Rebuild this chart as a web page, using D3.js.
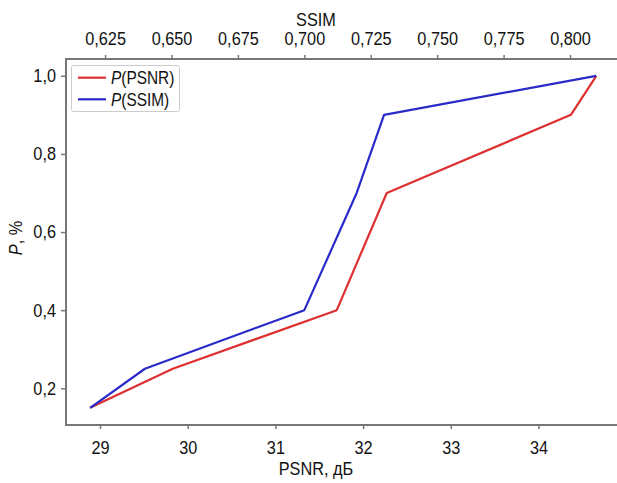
<!DOCTYPE html>
<html><head><meta charset="utf-8">
<script src="https://cdn.jsdelivr.net/npm/d3@7"></script>
<style>
body{margin:0;background:#fff}
text{font-family:"Liberation Sans",Arial,sans-serif;fill:#111}
</style>
</head><body>
<svg id="c" width="617" height="483"></svg>
<script>
// Data
const psnrX = [28.886, 29.83, 31.70, 32.27, 34.37, 34.66];
const psnrP = [0.15, 0.25, 0.40, 0.70, 0.90, 1.00];
const ssimX = [0.6194, 0.640, 0.700, 0.7197, 0.730, 0.8098];
const ssimP = [0.15, 0.25, 0.40, 0.70, 0.90, 1.00];
const psnrTicks = [29, 30, 31, 32, 33, 34];
const ssimTicks = [0.625, 0.650, 0.675, 0.700, 0.725, 0.750, 0.775, 0.800];
const pTicks = [0.2, 0.4, 0.6, 0.8, 1.0];
const seriesNames = ["(PSNR)", "(SSIM)"];
const colors = ["#dd3030", "#2a2ac8"];

const svg = d3.select("#c");
const L = 66, R = 620, T = 59, B = 425;
const x = d3.scaleLinear().domain([28.612, 34.93]).range([L, R]);
const xs = d3.scaleLinear().domain([0.6103, 0.8188]).range([L, R]);
const y = d3.scaleLinear().domain([0.106, 1.043]).range([B, T]);

const fs = "18.5px", axc = "#777";

function styleAxis(g){
  g.select(".domain").remove();
  g.selectAll(".tick line").attr("stroke", axc).attr("stroke-width", 1.5);
  g.selectAll(".tick text").style("font-size", fs)
    .style("font-family", '"Liberation Sans",Arial,sans-serif').attr("fill", "#111");
}

// bottom axis
svg.append("g").attr("transform", `translate(0,${B})`)
  .call(d3.axisBottom(x).tickValues(psnrTicks).tickSize(4).tickPadding(12).tickFormat(d => d))
  .call(styleAxis);
// top axis
svg.append("g").attr("transform", `translate(0,${T})`)
  .call(d3.axisTop(xs).tickValues(ssimTicks).tickSize(4).tickPadding(10).tickFormat(d => d.toFixed(3).replace(".", ",")))
  .call(styleAxis);
// left axis
svg.append("g").attr("transform", `translate(${L},0)`)
  .call(d3.axisLeft(y).tickValues(pTicks).tickSize(5).tickPadding(5).tickFormat(d => d.toFixed(1).replace(".", ",")))
  .call(styleAxis);

// frame
svg.append("rect").attr("x", L).attr("y", T).attr("width", R - L).attr("height", B - T)
  .attr("fill", "none").attr("stroke", axc).attr("stroke-width", 2);

// lines
const lineP = d3.line().x(d => x(d[0])).y(d => y(d[1]));
const lineS = d3.line().x(d => xs(d[0])).y(d => y(d[1]));
svg.append("path").datum(psnrX.map((v, i) => [v, psnrP[i]]))
  .attr("d", lineP).attr("fill", "none").attr("stroke", colors[0]).attr("stroke-width", 2.2).attr("stroke-linejoin", "round");
svg.append("path").datum(ssimX.map((v, i) => [v, ssimP[i]]))
  .attr("d", lineS).attr("fill", "none").attr("stroke", colors[1]).attr("stroke-width", 2.2).attr("stroke-linejoin", "round");

// axis titles
svg.append("text").attr("x", 316).attr("y", 26).attr("text-anchor", "middle")
  .style("font-size", fs).text("SSIM");
svg.append("text").attr("x", 316).attr("y", 475).attr("text-anchor", "middle")
  .style("font-size", fs).text("PSNR, дБ");
const yt = svg.append("text").attr("transform", "translate(22,238) rotate(-90)").attr("text-anchor", "middle")
  .style("font-size", fs);
yt.append("tspan").style("font-style", "italic").text("P");
yt.append("tspan").text(", %");

// legend
const lg = svg.append("g");
lg.append("rect").attr("x", 71.5).attr("y", 65.5).attr("width", 108).attr("height", 46).attr("rx", 2)
  .attr("fill", "#fff").attr("stroke", "#ccc").attr("stroke-width", 1);
seriesNames.forEach((n, i) => {
  const yy = 77.7 + i * 21.6;
  lg.append("line").attr("x1", 78).attr("x2", 106).attr("y1", yy).attr("y2", yy)
    .attr("stroke", colors[i]).attr("stroke-width", 2.2);
  const t = lg.append("text").attr("x", 111).attr("y", yy + 6.5)
    .style("font-size", "17.5px");
  t.append("tspan").style("font-style", "italic").text("P");
  t.append("tspan").text(n);
});

// condense all text glyphs (narrow typeface look)
svg.selectAll("text").each(function(){
  const w = this.getComputedTextLength();
  d3.select(this).attr("textLength", (w * 0.88).toFixed(2)).attr("lengthAdjust", "spacingAndGlyphs");
});
</script>
</body></html>
